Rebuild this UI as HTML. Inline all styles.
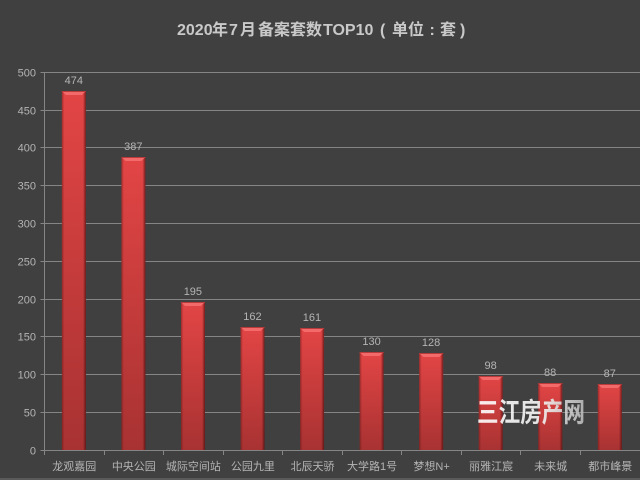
<!DOCTYPE html>
<html lang="zh">
<head>
<meta charset="utf-8">
<title>2020年7月备案套数TOP10</title>
<style>
html,body{margin:0;padding:0;background:#404040;}
svg{display:block;}
text{font-family:"Liberation Sans","Noto Sans CJK SC",sans-serif;}
</style>
</head>
<body>
<svg id="chart" width="640" height="480" viewBox="0 0 640 480" xmlns="http://www.w3.org/2000/svg">
<defs>
<linearGradient id="fillV" x1="0" y1="0" x2="0" y2="1"><stop offset="0" stop-color="#e34545"/><stop offset="1" stop-color="#a83232"/></linearGradient>
<linearGradient id="edgeH" x1="0" y1="0" x2="1" y2="0"><stop offset="0" stop-color="#500f0f" stop-opacity=".45"/><stop offset=".1" stop-color="#500f0f" stop-opacity="0"/><stop offset=".88" stop-color="#500f0f" stop-opacity="0"/><stop offset="1" stop-color="#400a0a" stop-opacity=".7"/></linearGradient>
<linearGradient id="markFill" x1="0" y1="0" x2="1" y2="0"><stop offset="0" stop-color="#ffffff"/><stop offset=".6" stop-color="#f4f4f4"/><stop offset="1" stop-color="#b8b8b8"/></linearGradient>
</defs>
<rect width="640" height="480" fill="#404040"/>
<rect y="478" width="640" height="2" fill="#5a5a5a"/>
<text y="35" font-size="16" font-weight="700" fill="#c9c9c9"><tspan x="177">2020</tspan><tspan x="212">年</tspan><tspan x="229">7</tspan><tspan x="240">月</tspan><tspan x="258">备案套数</tspan><tspan x="323">TOP10</tspan><tspan x="380">(</tspan><tspan x="392">单位</tspan><tspan x="429.5">:</tspan><tspan x="440">套</tspan><tspan x="460">)</tspan></text>
<g id="grid"></g>
<g id="axes"></g>
<g id="bars"></g>
<text x="477" y="422" font-size="27" font-weight="700" fill="url(#markFill)" fill-opacity=".9" textLength="108" lengthAdjust="spacingAndGlyphs">三江房产网</text>
</svg>
<script>
const categories = ['龙观嘉园','中央公园','城际空间站','公园九里','北辰天骄','大学路1号','梦想N+','丽雅江宸','未来城','都市峰景'];
const values = [474,387,195,162,161,130,128,98,88,87];
const yTicks = [0,50,100,150,200,250,300,350,400,450,500];
const NS = 'http://www.w3.org/2000/svg';
const left = 44.5, right = 640, top0 = 72.3, bottom = 450.3, yMax = 500, barW = 24;
const slot = 59.55;
function y(v){ return bottom - (v / yMax) * (bottom - top0); }
function xc(i){ return left + slot * (i + 0.5); }
function mk(tag, attrs, parent, txt){
  const e = document.createElementNS(NS, tag);
  for (const k in attrs) e.setAttribute(k, attrs[k]);
  if (txt !== undefined) e.textContent = txt;
  parent.appendChild(e);
  return e;
}
const grid = document.getElementById('grid'), axes = document.getElementById('axes'), bars = document.getElementById('bars');
yTicks.forEach(function(t){
  const py = Math.floor(y(t)) + 0.5;
  if (t > 0) {
    const g = mk('line', {x1:left, x2:right, y1:py, y2:py, stroke:'#858585', 'stroke-width':1}, grid);
    
    
  }
  const m = mk('line', {x1:left - 4, x2:left, y1:py, y2:py, stroke:'#858585', 'stroke-width':1}, axes);
  
  
  const l = mk('text', {x:36, y:py + 4, 'text-anchor':'end', 'font-size':11, fill:'#b4b4b4'}, axes, String(t));
  
  
});
const yAxis = mk('line', {x1:left, x2:left, y1:72, y2:450.5, stroke:'#858585', 'stroke-width':1}, axes);


const xAxis = mk('line', {x1:left, x2:right, y1:450.5, y2:450.5, stroke:'#858585', 'stroke-width':1}, axes);


categories.forEach(function(c, i){
  const tx = Math.floor(left + slot * i) + 0.5;
  const m = mk('line', {x1:tx, x2:tx, y1:450.5, y2:455, stroke:'#858585', 'stroke-width':1}, axes);
  
  
  const l = mk('text', {x:xc(i), y:470, 'text-anchor':'middle', 'font-size':11, fill:'#b4b4b4'}, axes, c);
  
  
});
values.forEach(function(v, i){
  const bx = xc(i) - barW / 2 - 0.4, by = Math.floor(y(v)), bh = 450 - by;
  const g = mk('g', {}, bars);
  
  
  mk('rect', {x:bx, y:by, width:barW, height:bh, fill:'url(#fillV)'}, g);
  mk('rect', {x:bx, y:by, width:barW, height:bh, fill:'url(#edgeH)'}, g);
  mk('polygon', {points:[bx,by, bx+barW,by, bx+barW-4,by+4, bx+4,by+4].join(' '), fill:'#f26a6a'}, g);
  mk('rect', {x:bx, y:by, width:barW, height:1, fill:'#b83a3a'}, g);
  const t = mk('text', {x:xc(i) - 0.5, y:by - 7, 'text-anchor':'middle', 'font-size':11, fill:'#b4b4b4'}, bars, String(v));
  
  
});
</script>
</body>
</html>
